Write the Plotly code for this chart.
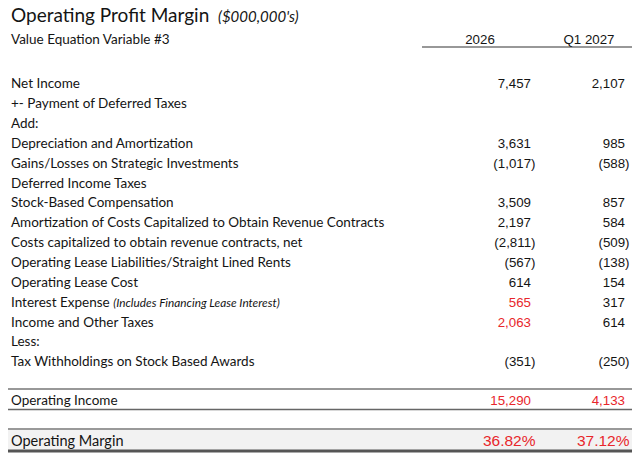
import plotly.graph_objects as go

# ---------------- data ----------------
title = "Operating Profit Margin"
units = "($000,000's)"
subtitle = "Value Equation Variable #3"
columns = ["2026", "Q1 2027"]

labels = [
    "Net Income",
    "+- Payment of Deferred Taxes",
    "Add:",
    "Depreciation and Amortization",
    "Gains/Losses on Strategic Investments",
    "Deferred Income Taxes",
    "Stock-Based Compensation",
    "Amortization of Costs Capitalized to Obtain Revenue Contracts",
    "Costs capitalized to obtain revenue contracts, net",
    "Operating Lease Liabilities/Straight Lined Rents",
    "Operating Lease Cost",
    "Interest Expense",
    "Income and Other Taxes",
    "Less:",
    "Tax Withholdings on Stock Based Awards",
]
label_notes = {"Interest Expense": "(Includes Financing Lease Interest)"}
values_2026 = [7457, None, None, 3631, -1017, None, 3509, 2197, -2811, -567, 614, 565, 2063, None, -351]
values_q1_2027 = [2107, None, None, 985, -588, None, 857, 584, -509, -138, 154, 317, 614, None, -250]
red_2026 = ["Interest Expense", "Income and Other Taxes"]
red_q1_2027 = []

total_label = "Operating Income"
total_values = [15290, 4133]
margin_label = "Operating Margin"
margin_values = [36.82, 37.12]

# ---------------- style ----------------
W, H = 640, 461
BLACK = "#141414"
RED = "#e8262b"
LABEL_FONT = "Lato"
NUM_FONT = "Liberation Sans"
label_x = 11
col_right = [531, 625]
paren_pad = 4.5
row0_y = 85
pitch = 19.85
total_y = 402
margin_y = 442
header_y = 41


def fmt(v):
    if v is None:
        return ""
    if v < 0:
        return f"({abs(v):,})"
    return f"{v:,}"


fig = go.Figure()

# labels
label_texts = []
for lab in labels:
    t = lab
    if lab in label_notes:
        t = f"{lab} <span style='font-size:11.8px'><i>{label_notes[lab]}</i></span>"
    label_texts.append(t)
row_y = [row0_y + i * pitch for i in range(len(labels))]

fig.add_trace(go.Scatter(
    x=[label_x] * len(labels), y=row_y, mode="text", text=label_texts,
    textposition="middle right", hoverinfo="skip",
    textfont=dict(family=LABEL_FONT, size=13.5, color=BLACK)))

# values
for ci, (vals, reds) in enumerate([(values_2026, red_2026), (values_q1_2027, red_q1_2027)]):
    xs, ys, ts, cs = [], [], [], []
    for i, v in enumerate(vals):
        if v is None:
            continue
        xs.append(col_right[ci] + (paren_pad if v < 0 else 0))
        ys.append(row_y[i])
        ts.append(fmt(v))
        cs.append(RED if labels[i] in reds else BLACK)
    fig.add_trace(go.Scatter(
        x=xs, y=ys, mode="text", text=ts, textposition="middle left",
        hoverinfo="skip", textfont=dict(family=NUM_FONT, size=13.3, color=cs)))

# header columns
fig.add_trace(go.Scatter(
    x=[col_right[0] - 51, col_right[1] - 36], y=[header_y, header_y], mode="text",
    text=columns, textposition="middle center", hoverinfo="skip",
    textfont=dict(family=NUM_FONT, size=13.3, color=BLACK)))

# title / subtitle
fig.add_trace(go.Scatter(
    x=[label_x], y=[17], mode="text", text=[title], textposition="middle right",
    hoverinfo="skip", textfont=dict(family=LABEL_FONT, size=19, color=BLACK)))
fig.add_trace(go.Scatter(
    x=[218], y=[18], mode="text", text=[f"<i>{units}</i>"], textposition="middle right",
    hoverinfo="skip", textfont=dict(family=LABEL_FONT, size=15, color=BLACK)))
fig.add_trace(go.Scatter(
    x=[label_x], y=[header_y], mode="text", text=[subtitle], textposition="middle right",
    hoverinfo="skip", textfont=dict(family=LABEL_FONT, size=13.5, color=BLACK)))

# total + margin rows
fig.add_trace(go.Scatter(
    x=[label_x, label_x], y=[total_y, margin_y], mode="text",
    text=[total_label, margin_label], textposition="middle right", hoverinfo="skip",
    textfont=dict(family=LABEL_FONT, size=[13.5, 14.5], color=BLACK)))
fig.add_trace(go.Scatter(
    x=col_right, y=[total_y] * 2, mode="text",
    text=[fmt(v) for v in total_values], textposition="middle left", hoverinfo="skip",
    textfont=dict(family=NUM_FONT, size=13.3, color=RED)))
fig.add_trace(go.Scatter(
    x=[c + paren_pad for c in col_right], y=[margin_y] * 2, mode="text",
    text=[f"{v:.2f}%" for v in margin_values], textposition="middle left", hoverinfo="skip",
    textfont=dict(family=NUM_FONT, size=15.5, color=RED)))

# rules and band
shapes = [
    dict(type="line", x0=422, x1=632, y0=47, y1=47, line=dict(color="#333333", width=1.2)),
    dict(type="line", x0=8, x1=632, y0=389, y1=389, line=dict(color="#333333", width=1.2)),
    dict(type="line", x0=8, x1=632, y0=409.5, y1=409.5, line=dict(color="#666666", width=1.6)),
    dict(type="rect", x0=8, x1=632, y0=429, y1=451, fillcolor="#f2f2f2", line=dict(width=0), layer="below"),
    dict(type="line", x0=8, x1=632, y0=429, y1=429, line=dict(color="#999999", width=2)),
    dict(type="line", x0=8, x1=632, y0=451, y1=451, line=dict(color="#555555", width=3)),
]

fig.update_layout(
    width=W, height=H, margin=dict(l=0, r=0, t=0, b=0),
    paper_bgcolor="white", plot_bgcolor="white", showlegend=False,
    shapes=shapes,
    xaxis=dict(range=[0, W], visible=False, fixedrange=True),
    yaxis=dict(range=[H, 0], visible=False, fixedrange=True),
)

fig.write_html(
    "out.html", config={"displayModeBar": False},
    post_script="document.body.style.margin='0';document.body.style.overflow='hidden';",
)
